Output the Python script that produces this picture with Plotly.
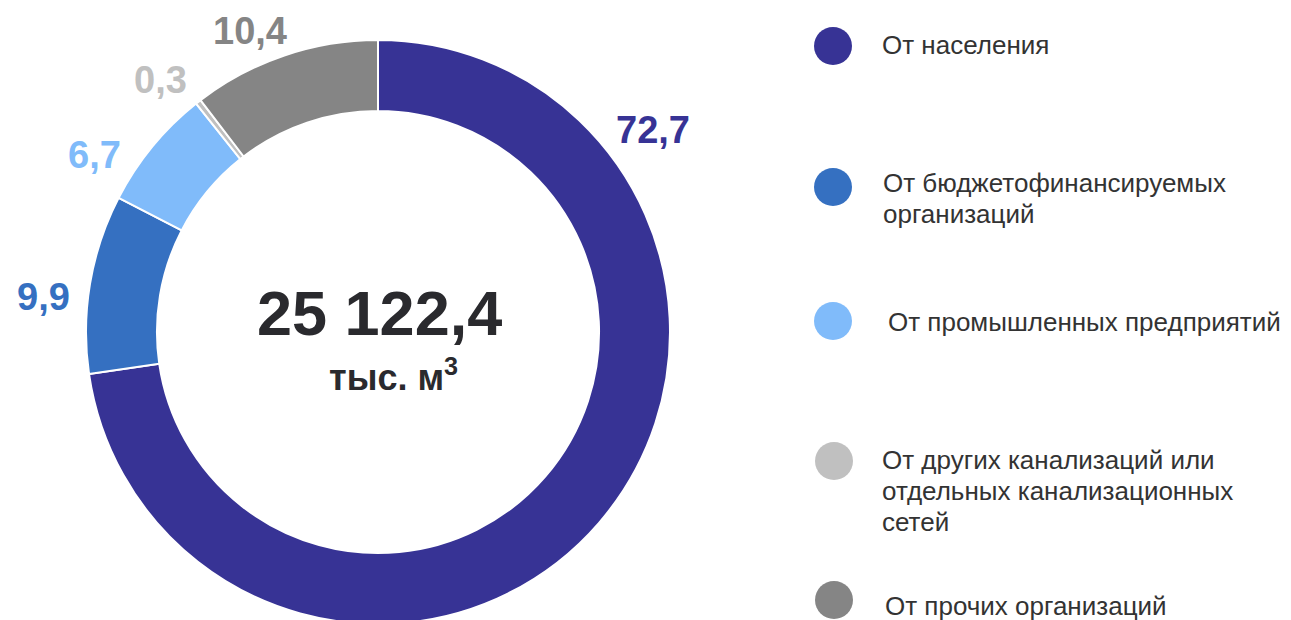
import plotly.graph_objects as go

# ---- data ----
categories = [
    "От населения",
    "От бюджетофинансируемых организаций",
    "От промышленных предприятий",
    "От других канализаций или отдельных канализационных сетей",
    "От прочих организаций",
]
legend_lines = [
    ["От населения"],
    ["От бюджетофинансируемых", "организаций"],
    ["От промышленных предприятий"],
    ["От других канализаций или", "отдельных канализационных", "сетей"],
    ["От прочих организаций"],
]
shares = [72.7, 9.9, 6.7, 0.3, 10.4]
total_text = "25 122,4"
unit_text = "тыс. м<sup>3</sup>"

# ---- styles / layout ----
colors = ["#373395", "#3570C1", "#80BBFA", "#C0C0C0", "#858585"]
W, H = 1291, 620
OFF = 8  # page body margin
FONT = "Liberation Sans, Arial, sans-serif"


def px(sx):
    return (sx - OFF) / W


def py(sy):
    return 1 - (sy - OFF) / H


cx, cy, R = 378, 332, 292

fig = go.Figure()
fig.add_trace(go.Pie(
    values=shares,
    labels=categories,
    marker=dict(colors=colors, line=dict(color="white", width=2)),
    hole=0.757,
    sort=False,
    direction="clockwise",
    rotation=0,
    textinfo="none",
    hoverinfo="label+value",
    showlegend=False,
    domain=dict(x=[px(cx - R), px(cx + R)], y=[py(cy + R), py(cy - R)]),
))


def fmt(v):
    return f"{v:.1f}".replace(".", ",")


# value labels placed around the ring (screen pixel centres)
label_pos = [(653, 130), (43, 297), (94, 155), (160, 80), (250, 31)]
annotations = []
for v, c, (lx, ly) in zip(shares, colors, label_pos):
    annotations.append(dict(
        x=px(lx), y=py(ly), xref="paper", yref="paper",
        text=f"<b>{fmt(v)}</b>", showarrow=False,
        xanchor="center", yanchor="middle",
        font=dict(family=FONT, size=38, color=c),
    ))

# centre text
annotations.append(dict(
    x=px(379), y=py(313), xref="paper", yref="paper",
    text=f"<b>{total_text}</b>", showarrow=False,
    xanchor="center", yanchor="middle",
    font=dict(family=FONT, size=63, color="#2A2A2E"),
))
annotations.append(dict(
    x=px(393), y=py(375), xref="paper", yref="paper",
    text=f"<b>{unit_text}</b>", showarrow=False,
    xanchor="center", yanchor="middle",
    font=dict(family=FONT, size=36, color="#2A2A2E"),
))

# custom legend
circle_pos = [(833, 46), (833, 187), (833, 321), (834, 461), (834, 600)]
text_pos = [(880, 45), (881, 183), (886, 322), (880, 460), (883, 606)]
line_gap = 31
shapes = []
r = 19
for (ccx, ccy), c in zip(circle_pos, colors):
    shapes.append(dict(
        type="circle", xref="paper", yref="paper",
        x0=px(ccx - r), x1=px(ccx + r),
        y0=py(ccy + r), y1=py(ccy - r),
        fillcolor=c, line=dict(width=0),
    ))
for lines, (tx, ty) in zip(legend_lines, text_pos):
    for i, ln in enumerate(lines):
        annotations.append(dict(
            x=px(tx), y=py(ty + i * line_gap), xref="paper", yref="paper",
            text=ln, showarrow=False, xanchor="left", yanchor="middle",
            font=dict(family=FONT, size=26, color="#333333"),
        ))

fig.update_layout(
    width=W, height=H,
    margin=dict(l=0, r=0, t=0, b=0),
    paper_bgcolor="white", plot_bgcolor="white",
    annotations=annotations, shapes=shapes,
    font=dict(family=FONT),
)

fig.write_html("out.html")
